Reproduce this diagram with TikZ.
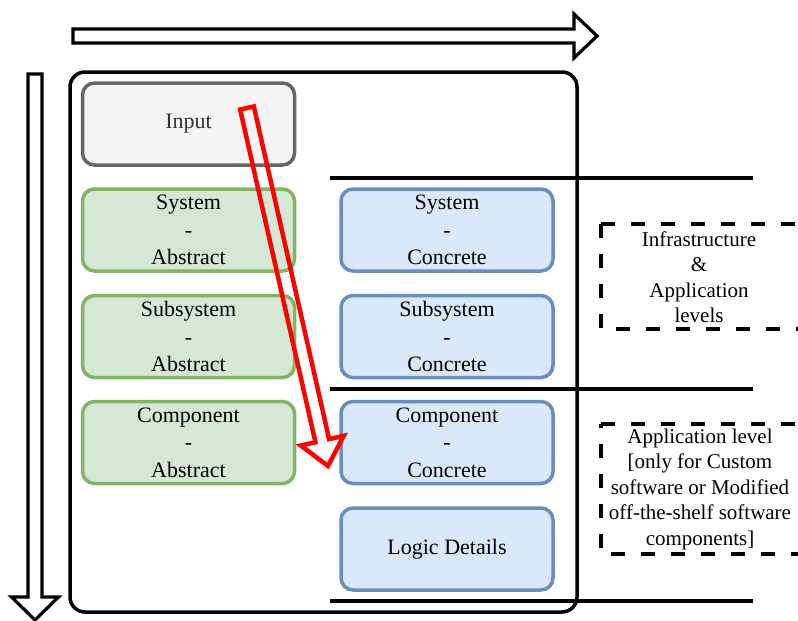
\documentclass[tikz,border=0pt]{standalone}
\usepackage{fontspec}
\setmainfont{Liberation Serif}
\usetikzlibrary{calc}
\definecolor{inputfill}{HTML}{F5F5F5}
\definecolor{inputline}{HTML}{666666}
\definecolor{inputtext}{HTML}{333333}
\definecolor{absfill}{HTML}{D5E8D4}
\definecolor{absline}{HTML}{82B366}
\definecolor{confill}{HTML}{DAE8FC}
\definecolor{conline}{HTML}{6C8EBF}
\definecolor{flowred}{HTML}{FF0000}
\begin{document}
\begin{tikzpicture}[x=1pt,y=-1pt,
  box/.style={rounded corners=12pt, line width=3.5pt, minimum width=212pt,
    minimum height=82pt, inner sep=0pt, align=center,
    font=\fontsize{22}{27.5}\selectfont},
  inputbox/.style={box, draw=inputline, fill=inputfill, text=inputtext},
  absbox/.style={box, draw=absline, fill=absfill},
  conbox/.style={box, draw=conline, fill=confill},
  note/.style={align=center, inner sep=0pt, font=\fontsize{21}{25.5}\selectfont},
  notebox/.style={draw, line width=4pt, dash pattern=on 14pt off 16pt},
  divider/.style={line width=3.5pt},
  bigarrow/.style={draw, fill=white, line width=3.2pt, line join=miter},
  redarrow/.style={draw=flowred, line width=4.5pt, line join=miter}
]
\path[use as bounding box] (0,0) rectangle (798,621);
\clip (0,0) rectangle (798,621);

% direction arrows along the top and the left side
\draw[bigarrow] (73,29) -- (574,29) -- (574,14) -- (597,36) -- (574,58)
  -- (574,43) -- (73,43) -- cycle;
\draw[bigarrow] (28,74) -- (42,74) -- (42,597) -- (58.5,597) -- (35,620)
  -- (11.5,597) -- (28,597) -- cycle;

% frame
\node[draw, rounded corners=15pt, line width=3.5pt, minimum width=507pt,
  minimum height=540pt, inner sep=0pt] (frame) at (323.5,342) {};

% level separators
\coordinate (s1a) at (330,178); \coordinate (s1b) at (753,178);
\coordinate (s2a) at (330,389); \coordinate (s2b) at (753,389);
\coordinate (s3a) at (330,601); \coordinate (s3b) at (753,601);
\draw[divider] (s1a) -- (s1b);
\draw[divider] (s2a) -- (s2b);
\draw[divider] (s3a) -- (s3b);

% boxes
\node[inputbox] (input) at (188.5,124) {Input};
\node[absbox] (sysA) at (188.5,230) {System\\-\\Abstract};
\node[absbox] (subA) at (188.5,336.5) {Subsystem\\-\\Abstract};
\node[absbox] (comA) at (188.5,442.5) {Component\\-\\Abstract};
\node[conbox] (sysC) at (447,230) {System\\-\\Concrete};
\node[conbox] (subC) at (447,336.5) {Subsystem\\-\\Concrete};
\node[conbox] (comC) at (447,442.5) {Component\\-\\Concrete};
\node[conbox] (logic) at (447,549) {Logic Details};

% level notes
\draw[notebox] (601,224) -- (803,224) -- (803,329) -- (601,329) -- cycle;
\node[note] (infra) at (699,277) {Infrastructure\\\&\\Application\\levels};
\draw[notebox] (601,424) -- (803,424) -- (803,554) -- (601,554) -- cycle;
\node[note] (appl) at (700,489) {Application level\\{[}only for Custom\\software or Modified\\off-the-shelf software\\components{]}};

% hollow red flow arrow from input to the concrete component
\coordinate (T) at (247,108);
\coordinate (P) at (328,466);
\coordinate (H) at ($(P)!26pt!(T)$);
\draw[redarrow]
  ($(T)!7pt!90:(P)$) -- ($(H)!7pt!-90:(T)$) -- ($(H)!22pt!-90:(T)$) -- (P)
  -- ($(H)!22pt!90:(T)$) -- ($(H)!7pt!90:(T)$) -- ($(T)!7pt!-90:(P)$) -- cycle;
\end{tikzpicture}
\end{document}
